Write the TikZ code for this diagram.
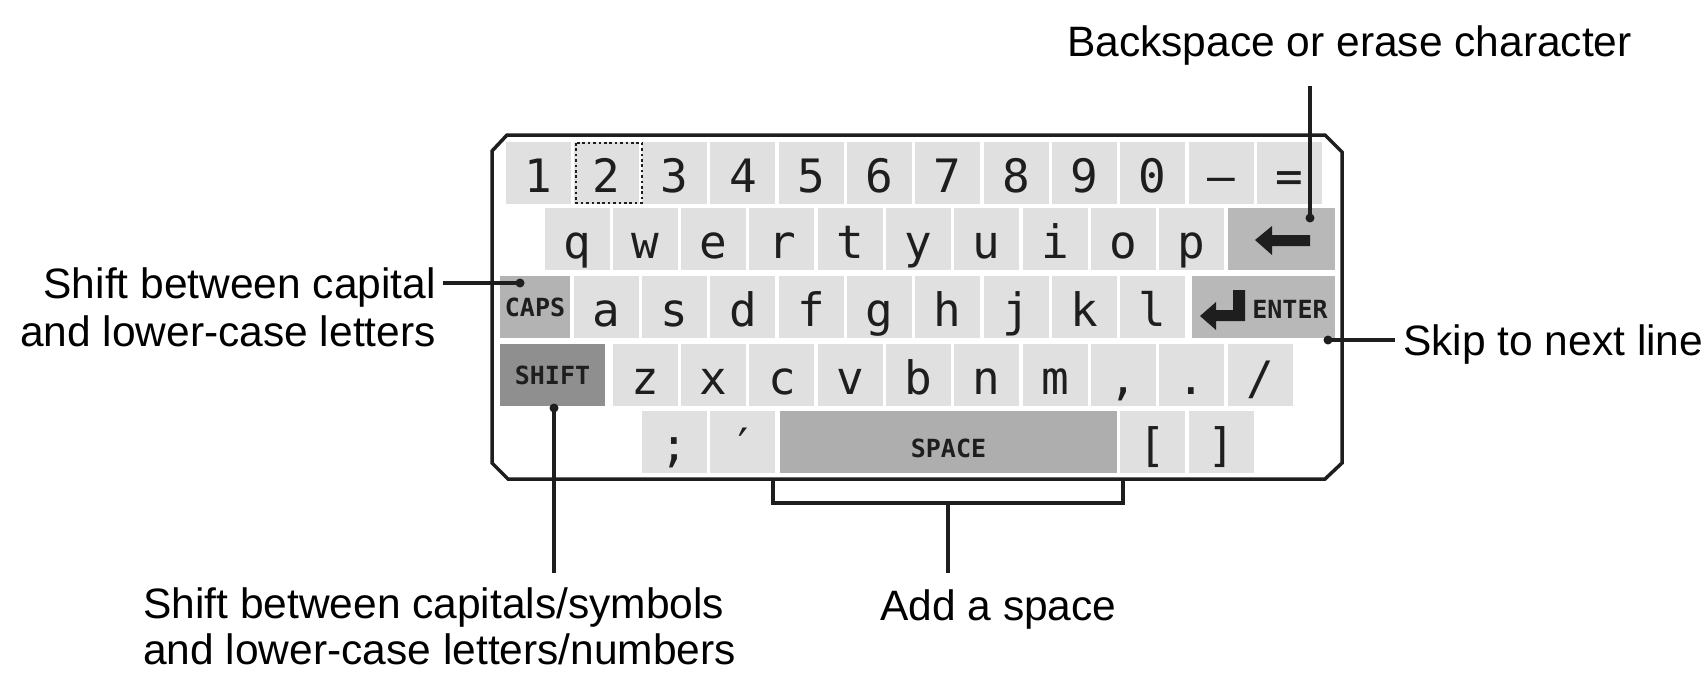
\documentclass[tikz,border=0pt]{standalone}
\usepackage{fontspec}
\setmainfont{Liberation Sans}
\newfontfamily\keyfont{DejaVu Sans Mono}
\definecolor{keyfill}{HTML}{E0E0E0}
\definecolor{capsfill}{HTML}{B3B3B3}
\definecolor{shiftfill}{HTML}{8F8F8F}
\definecolor{bsfill}{HTML}{B8B8B8}
\definecolor{spacefill}{HTML}{AEAEAE}
\definecolor{ink}{HTML}{1E1E1E}
\begin{document}
\begin{tikzpicture}[x=1pt,y=-1pt,
  key/.style={fill=keyfill, inner sep=0, minimum width=65, minimum height=62,
    text height=50, text depth=12, font=\keyfont\fontsize{46}{46}\selectfont, text=ink},
  fkey/.style={inner sep=0, minimum height=62, font=\keyfont\bfseries\fontsize{25}{25}\selectfont, text=ink},
  lbl/.style={inner sep=0, font=\fontsize{42.5}{48}\selectfont, text=black},
  conn/.style={draw=ink, line width=3.2},
  dot/.style={circle, fill=ink, inner sep=0, minimum size=9}
]
\useasboundingbox (0,0) rectangle (1702,673);
\fill[white] (0,0) rectangle (1702,673);

% row 1
\foreach \c [count=\i from 0] in {1,2,3,4,5,6,7,8,9,0,–,=}
  \node[key] (r1k\i) at ({538+68.3*\i},173) {\c};
% row 2
\foreach \c [count=\i from 0] in {q,w,e,r,t,y,u,i,o,p}
  \node[key] (r2k\i) at ({577+68.3*\i},239) {\c};
% row 3
\foreach \c [count=\i from 0] in {a,s,d,f,g,h,j,k,l}
  \node[key] (r3k\i) at ({606.3+68.3*\i},307) {\c};
% row 4
\foreach \c [count=\i from 0] in {z,x,c,v,b,n,m}
  \node[key] (r4k\i) at ({645.3+68.3*\i},375) {\c};
\node[key] (r4k7) at ({645.3+68.3*7},375) {,};
\node[key] (r4k8) at ({645.3+68.3*8},375) {.};
\node[key] (r4k9) at ({645.3+68.3*9},375) {/};
% row 5
\node[key] (r5semi) at (674.6,442) {;};
\node[key] (r5quote) at (742.9,442) {′};
\node[key] (r5lb) at (1152.7,442) {[};
\node[key] (r5rb) at (1221,442) {]};

% function keys
\node[fkey, fill=capsfill, minimum width=70] (caps) at (535,307) {CAPS};
\node[fkey, fill=shiftfill, minimum width=105] (shift) at (552.5,375) {SHIFT};
\node[fkey, fill=bsfill, minimum width=107] (bksp) at (1281.5,239) {};
\node[fkey, fill=bsfill, minimum width=143] (enter) at (1263.5,307) {};
\node[fkey, fill=spacefill, minimum width=337] (space) at (948.5,442) {};
\node[fkey] (spacetext) at (948.5,448) {SPACE};
\node[fkey] (entertext) at (1290,309) {ENTER};

% backspace arrow
\fill[ink] (1255,240) -- (1272,226) -- (1272,235) -- (1310,235) -- (1310,246)
  -- (1272,246) -- (1272,255) -- cycle;
% enter arrow
\fill[ink] (1200,316) -- (1216,302) -- (1216,310) -- (1233,310) -- (1233,290)
  -- (1245,290) -- (1245,321) -- (1216,321) -- (1216,330) -- cycle;

% selection box on "2"
\draw[ink, line width=2.6, dash pattern=on 2.6pt off 2.8pt] (576,143) rectangle (642,203);

% frame
\draw[ink, line width=3.5, line join=miter] (507,135) -- (1325,135) -- (1342,152)
  -- (1342,463) -- (1325,479) -- (508,479) -- (492,463) -- (492,151) -- cycle;

% labels
\node[lbl, anchor=base east] (capsA) at (436,298) {Shift between capital};
\node[lbl, anchor=base east] (capsB) at (436,346) {and lower-case letters};
\node[lbl, anchor=base west] (bs) at (1067,56) {Backspace or erase character};
\node[lbl, anchor=base west] (sk) at (1403,355) {Skip to next line};
\node[lbl, anchor=base west] (shA) at (143,618) {Shift between capitals/symbols};
\node[lbl, anchor=base west] (shB) at (143,664) {and lower-case letters/numbers};
\node[lbl, anchor=base west] (sp) at (880,620) {Add a space};

% connectors
\node[dot] (capsd) at (520,283) {};
\coordinate (capsend) at (443,283);
\draw[conn] (capsend) -- (capsd.center);

\node[dot] (bsd) at (1310,218) {};
\coordinate (bstop) at (1310,86);
\draw[conn] (bstop) -- (bsd.center);

\node[dot] (skd) at (1328,340) {};
\coordinate (skend) at (1395,340);
\draw[conn] (skd.center) -- (skend);

\node[dot] (shd) at (554,408) {};
\coordinate (shend) at (554,573);
\draw[conn] (shd.center) -- (shend);

\coordinate (brl) at (773,478);
\coordinate (brr) at (1123,478);
\coordinate (brm) at (948,503);
\coordinate (spend) at (948,573);
\draw[conn] (brl) -- (brl |- brm) -- (brr |- brm) -- (brr);
\draw[conn] (brm) -- (spend);
\end{tikzpicture}
\end{document}
